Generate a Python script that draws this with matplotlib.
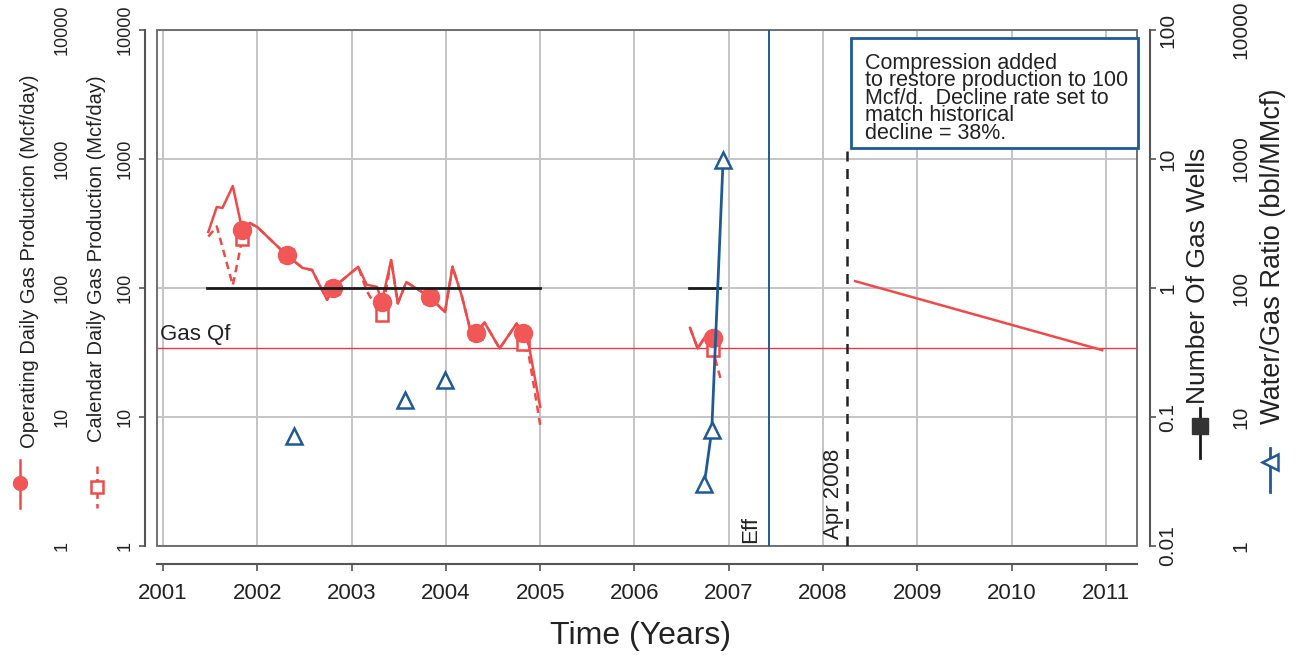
import numpy as np
import matplotlib
matplotlib.use("Agg")
import matplotlib.pyplot as plt
from matplotlib.lines import Line2D
from matplotlib.patches import Rectangle
from matplotlib.ticker import NullLocator
from matplotlib.transforms import blended_transform_factory

plt.rcParams['font.family'] = ['Liberation Sans', 'DejaVu Sans']

nan = np.nan

# operating daily gas production, Mcf/day
op_years = [2001.48, 2001.57, 2001.63, 2001.74, 2001.84, 2001.92, 2002.00,
            2002.31, 2002.48, 2002.58, 2002.74, 2002.80,
            2003.07, 2003.16, 2003.27, 2003.32, 2003.42, 2003.49, 2003.58, 2003.68, 2003.83, 2003.99,
            2004.07, 2004.17, 2004.26, 2004.32, 2004.41, 2004.57, 2004.75, 2004.82, 2004.88, 2005.00,
            nan, 2006.59, 2006.67, 2006.76, 2006.83, 2006.90]
op_rate = [272, 425, 417, 618, 282, 319, 297,
           180, 143, 138, 81, 100,
           146, 106, 102, 78, 165, 76, 111, 100, 85, 65,
           146, 86, 47, 45, 54, 34, 53, 45, 36, 12,
           nan, 49, 34, 43, 41, 42]

# calendar daily gas production, Mcf/day
cal_years = [2001.48, 2001.57, 2001.74, 2001.84, 2001.92, 2002.00,
             2002.31, 2002.48, 2002.58, 2002.74, 2002.80,
             2003.07, 2003.16, 2003.22, 2003.32, 2003.42, 2003.49, 2003.58, 2003.68, 2003.83, 2003.99,
             2004.07, 2004.17, 2004.26, 2004.32, 2004.41, 2004.57, 2004.75, 2004.82, 2004.88, 2005.00,
             nan, 2006.59, 2006.67, 2006.76, 2006.83, 2006.92]
cal_rate = [250, 300, 105, 240, 319, 297,
            180, 143, 138, 81, 100,
            146, 95, 80, 62, 165, 76, 111, 100, 85, 65,
            146, 86, 47, 45, 54, 34, 53, 37, 30, 8.7,
            nan, 49, 34, 43, 33, 19]

# dates that carry a symbol on the production curves
marked_years = [2001.84, 2002.31, 2002.80, 2003.32, 2003.83, 2004.32, 2004.82, 2006.83]

well_years = [2001.47, 2005.00, nan, 2006.58, 2006.91]
well_count = [1, 1, nan, 1, 1]

wgr_years = [2002.39, nan, 2003.57, nan, 2003.99, nan, 2006.74, 2006.82, 2006.94]
wgr = [7.1, nan, 13.5, nan, 19.4, nan, 3.0, 7.9, 980]

# forecast after compression
fc_years = [2008.34, 2010.96]
fc_rate = [113, 33]

gas_qf = 34
eff_date = 2007.43
apr_2008 = 2008.25

year_ticks = list(range(2001, 2012))
rate_ticks = [1, 10, 100, 1000, 10000]
rate_labels = ['1', '10', '100', '1000', '10000']
well_ticks = [0.01, 0.1, 1, 10, 100]
well_labels = ['0.01', '0.1', '1', '10', '100']

note = ("Compression added\nto restore production to 100\nMcf/d.  Decline rate set to\n"
        "match historical\ndecline = 38%.")

RED = '#ef4a4a'
BLUE = '#1f5a96'
GRID = '#c4c4c4'

W, H = 1299, 658
PT = 0.72  # points per pixel at dpi 100


def fx(x):
    return x / W


def fy(y):
    return 1 - y / H


fig = plt.figure(figsize=(W / 100, H / 100), dpi=100)
ax = fig.add_axes([fx(157), fy(546), (1137 - 157) / W, (546 - 30) / H])

ax.set_yscale('log')
ax.set_ylim(1, 10000)
ax.set_xlim(2000.936, 2011.33)
ax.set_xticks(year_ticks)
ax.set_xticklabels([str(y) for y in year_ticks])
ax.set_yticks(rate_ticks)
ax.set_yticklabels(rate_labels)
ax.yaxis.set_minor_locator(NullLocator())
ax.grid(True, color=GRID, lw=1.4)
ax.set_axisbelow(True)

for s in ('top', 'right'):
    ax.spines[s].set_visible(False)
ax.spines['left'].set_position(('outward', 12 * PT))
ax.spines['bottom'].set_position(('outward', 18 * PT))
for s in ('left', 'bottom'):
    ax.spines[s].set_color('#555555')
    ax.spines[s].set_linewidth(1.5)
ax.tick_params(axis='y', direction='out', length=4, width=1.2, colors='#555555',
               labelcolor='#222222', labelsize=13, labelrotation=90, pad=4)
ax.tick_params(axis='x', direction='out', length=5, width=1.2, colors='#555555',
               labelcolor='#222222', labelsize=16, pad=9)
for lab in ax.get_yticklabels():
    lab.set_va('center')

# plot frame
ax.add_patch(Rectangle((0, 0), 1, 1, transform=ax.transAxes, fill=False,
                       ec='#666666', lw=1.3, clip_on=False, zorder=3))

# production curves
op_marks = [op_years.index(y) for y in marked_years]
cal_marks = [cal_years.index(y) for y in marked_years]
ax.plot(cal_years, cal_rate, color=RED, lw=1.8, ls=(0, (3, 2)), marker='s', ms=8,
        mfc='white', mec=RED, mew=1.8, markevery=cal_marks, zorder=4)
ax.plot(op_years, op_rate, color=RED, lw=1.8, marker='o', ms=13,
        mfc='#f25757', mec='#f25757', markevery=op_marks, zorder=5)
ax.plot(fc_years, fc_rate, color=RED, lw=1.8, zorder=4)

ax.axhline(gas_qf, color='#e8384a', lw=1.0, zorder=3)
ax.text(0.003, gas_qf * 1.06, 'Gas Qf', transform=blended_transform_factory(ax.transAxes, ax.transData),
        fontsize=16, color='#222222', va='bottom', ha='left')

ax.axvline(eff_date, color=BLUE, lw=1.4, zorder=3)
ax.annotate('Eff', xy=(eff_date, 1), xytext=(-6, 2), textcoords='offset points',
            rotation=90, ha='right', va='bottom', fontsize=16, color='#222222')
# dashed marker stops under the note box
ax.axvline(apr_2008, ymax=(546 - 148) / (546 - 30), color='#222222', lw=1.8,
           ls=(0, (4, 3)), zorder=3)
ax.annotate('Apr 2008', xy=(apr_2008, 1), xytext=(-2, 5), textcoords='offset points',
            rotation=90, ha='right', va='bottom', fontsize=16, color='#222222')

# number of gas wells, inner right axis
axr = ax.twinx()
axr.set_yscale('log')
axr.set_ylim(0.01, 100)
axr.set_yticks(well_ticks)
axr.set_yticklabels(well_labels)
axr.yaxis.set_minor_locator(NullLocator())
for s in ('top', 'left', 'bottom'):
    axr.spines[s].set_visible(False)
axr.spines['right'].set_position(('outward', 13 * PT))
axr.spines['right'].set_color('#555555')
axr.spines['right'].set_linewidth(1.5)
axr.tick_params(axis='y', direction='out', length=4, width=1.2, colors='#555555',
                labelcolor='#222222', labelsize=15, labelrotation=90, pad=2)
for lab in axr.get_yticklabels():
    lab.set_va('center')
axr.plot(well_years, well_count, color='#1a1a1a', lw=2.0, zorder=4)

# water/gas ratio, outer right axis
axw = ax.twinx()
axw.set_yscale('log')
axw.set_ylim(1, 10000)
axw.set_yticks(rate_ticks)
axw.set_yticklabels(rate_labels)
axw.yaxis.set_minor_locator(NullLocator())
for s in axw.spines.values():
    s.set_visible(False)
axw.spines['right'].set_position(('outward', 92 * PT))
axw.tick_params(axis='y', length=0, labelcolor='#222222', labelsize=15, labelrotation=90, pad=2)
for lab in axw.get_yticklabels():
    lab.set_va('center')
axw.plot(wgr_years, wgr, color=BLUE, lw=2.0, marker='^', ms=11, mfc='white',
         mec=BLUE, mew=1.8, zorder=6)

# operating rate, outer left axis
axo = ax.twinx()
axo.set_yscale('log')
axo.set_ylim(1, 10000)
axo.yaxis.tick_left()
axo.set_yticks(rate_ticks)
axo.set_yticklabels(rate_labels)
axo.yaxis.set_minor_locator(NullLocator())
for s in axo.spines.values():
    s.set_visible(False)
axo.spines['left'].set_position(('outward', 82 * PT))
axo.tick_params(axis='y', length=0, labelcolor='#222222', labelsize=13, labelrotation=90, pad=3)
for lab in axo.get_yticklabels():
    lab.set_va('center')

# axis titles with their line keys
txt = dict(rotation=90, ha='center', va='top', color='#222222')
fig.text(fx(30), fy(75), 'Operating Daily Gas Production (Mcf/day)', fontsize=14.5, **txt)
fig.text(fx(97), fy(75), 'Calendar Daily Gas Production (Mcf/day)', fontsize=14.5, **txt)
fig.text(fx(1198), fy(148), 'Number Of Gas Wells', fontsize=19, **txt)
fig.text(fx(1273), fy(88), 'Water/Gas Ratio (bbl/MMcf)', fontsize=19.5, **txt)
fig.text(fx(640), fy(636), 'Time (Years)', fontsize=23, ha='center', va='center', color='#222222')

keys = [
    (20, 460, 508, 483, dict(color=RED, lw=1.8, marker='o', ms=10, mfc='#f25757', mec='#f25757')),
    (97, 466, 508, 487, dict(color=RED, lw=1.8, ls=(0, (3, 2)), marker='s', ms=8, mfc='white', mec=RED, mew=1.8)),
    (1200, 408, 458, 426, dict(color='#1a1a1a', lw=2.0, marker='s', ms=11, mfc='#333333', mec='#333333')),
    (1270, 448, 492, 462, dict(color=BLUE, lw=2.0, marker='<', ms=11, mfc='white', mec=BLUE, mew=1.8)),
]
for x, y0, y1, ym, style in keys:
    marker = {k: style.pop(k) for k in ('marker', 'ms', 'mfc', 'mec', 'mew') if k in style}
    fig.add_artist(Line2D([fx(x), fx(x)], [fy(y0), fy(y1)], **style))
    fig.add_artist(Line2D([fx(x)], [fy(ym)], ls='none', **marker))

# note box
fig.add_artist(Rectangle((fx(851), fy(148)), (1138 - 851) / W, (148 - 38) / H,
                         fc='white', ec=BLUE, lw=2.0, zorder=5))
fig.text(fx(865), fy(53), note, fontsize=15.5, linespacing=0.78, va='top', ha='left',
         color='#222222', zorder=6)

fig.savefig('out.png', dpi=100)
